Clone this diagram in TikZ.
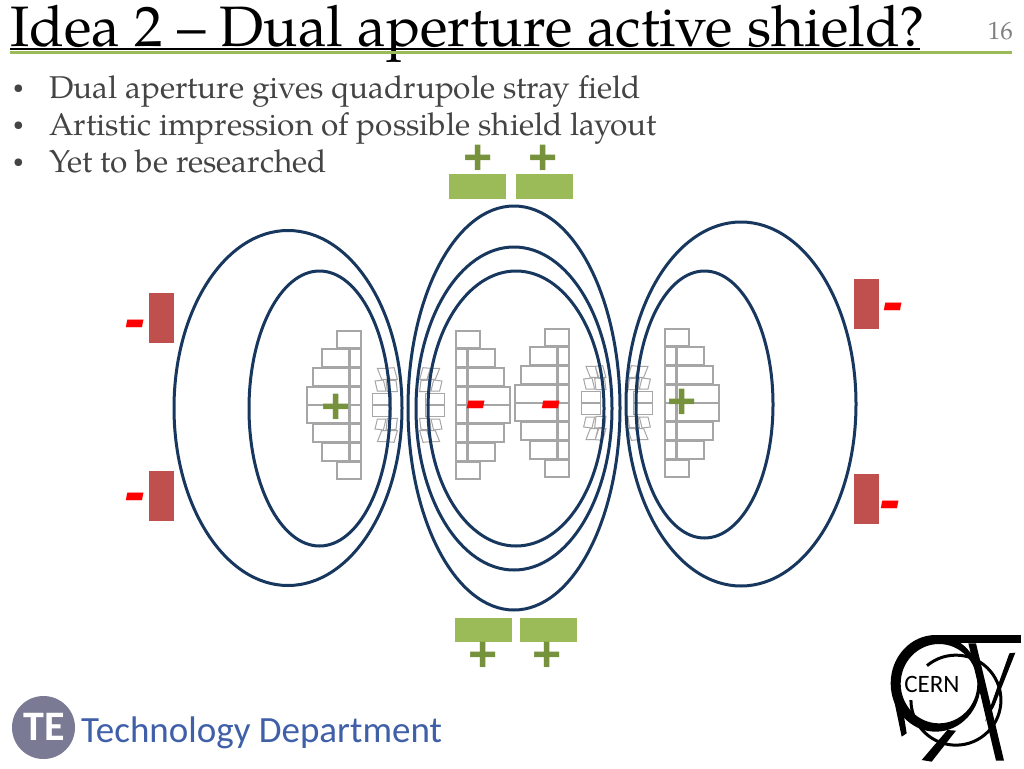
\documentclass[tikz,border=0pt]{standalone}
\usepackage{fontspec}
\setmainfont{TeX Gyre Pagella}
\newfontfamily\markfont{Liberation Sans}
\newfontfamily\logofont{Carlito}
\definecolor{navy}{HTML}{17375E}
\definecolor{shieldgreen}{HTML}{9BBB59}
\definecolor{plusgreen}{HTML}{76923C}
\definecolor{shieldred}{HTML}{C0504D}
\definecolor{bodygray}{HTML}{444444}
\definecolor{coilgray}{HTML}{A6A6A6}
\definecolor{tegray}{HTML}{7A7A95}
\definecolor{teblue}{HTML}{3F5FA8}
\tikzset{
  fieldline/.style={draw=navy,line width=3pt},
  block/.style={draw=coilgray,fill=white,line width=1.3pt},
  bodytext/.style={anchor=base west,inner sep=0pt,text=bodygray,font=\fontsize{31.5}{31.5}\selectfont},
  bullettext/.style={anchor=base west,inner sep=0pt,text=bodygray,font=\fontsize{19}{19}\selectfont},
  plussign/.style={text=plusgreen,inner sep=0pt,yshift=-2pt,font=\markfont\bfseries\fontsize{50}{50}\selectfont},
  minussign/.style={text=red,inner sep=0pt,yshift=-7pt,font=\markfont\bfseries\itshape\fontsize{64}{64}\selectfont},
}
\newcommand\CoilHalf[3]{%
  \begin{scope}[shift={(#1,#2)},xscale=#3]
    \draw[block] (0,-74) rectangle (24,-57);
    \draw[block] (0,57) rectangle (24,74);
    \foreach \ya/\yb/\w in {-56/-38/39,-37/-19/48,-18/-0.2/54,0.2/18/54,19/37/48,38/56/39}{
      \draw[block] (0,\ya) rectangle (11,\yb);
      \draw[block] (12,\ya) rectangle (\w,\yb);
    }
  \end{scope}}
\newcommand\WedgeHalf[3]{%
  \begin{scope}[shift={(#1,#2)},xscale=#3]
    \draw[block] (0,-11.7) rectangle (19,-0.3);
    \draw[block] (0,0.3) rectangle (19,11.7);
    \foreach \m in {1,-1}{
      \begin{scope}[yscale=\m,scale=1/3]
        \draw[block,line width=1pt] (14,-110) -- (42,-110) -- (50,-77) -- (27,-77) -- cycle;
        \draw[block,line width=1pt] (42,-110) -- (64,-112) -- (74,-77) -- (52,-77) -- cycle;
        \draw[block,line width=1pt] (7,-72) -- (32,-75) -- (40,-42) -- (14,-42) -- cycle;
        \draw[block,line width=1pt] (40,-75) -- (70,-73) -- (74,-40) -- (44,-40) -- cycle;
      \end{scope}
    }
  \end{scope}}
\begin{document}
\begin{tikzpicture}[x=1pt,y=-1pt]
\useasboundingbox (0,0) rectangle (1024,768);
\fill[white] (0,0) rectangle (1024,768);
% title
\node[anchor=base west,inner sep=0pt,font=\fontsize{57}{57}\selectfont] (title) at (10,46) {Idea 2 – Dual aperture active shield?};
\draw[black,line width=2pt] (10,49.5) -- (920,49.5);
\draw[shieldgreen,line width=3pt] (10,53) -- (1012,53);
\node[anchor=base east,inner sep=0pt,text=gray,font=\fontsize{25}{25}\selectfont] (page) at (1013,40) {16};
% bullets
\node[bullettext] (b1) at (13,93.5) {•};
\node[bullettext] (b2) at (13,130.5) {•};
\node[bullettext] (b3) at (13,167.5) {•};
\node[bodytext] (t1) at (49,98) {Dual aperture gives quadrupole stray field};
\node[bodytext] (t2) at (49,135) {Artistic impression of possible shield layout};
\node[bodytext] (t3) at (49,172) {Yet to be researched};
% coils
\CoilHalf{361}{405}{-1}
\CoilHalf{456}{405}{1}
\CoilHalf{569}{403}{-1}
\CoilHalf{665}{403}{1}
\WedgeHalf{372.7}{405}{1}
\WedgeHalf{444.3}{405}{-1}
\WedgeHalf{581.3}{403}{1}
\WedgeHalf{652.7}{403}{-1}
% field lines
\draw[fieldline] (288,408) ellipse [x radius=114pt,y radius=177.5pt];
\draw[fieldline] (319.5,408.5) ellipse [x radius=70.5pt,y radius=137.5pt];
\draw[fieldline] (514,408) ellipse [x radius=106pt,y radius=202pt];
\draw[fieldline] (514,408.5) ellipse [x radius=98pt,y radius=161.5pt];
\draw[fieldline] (516,408.5) ellipse [x radius=88pt,y radius=137.5pt];
\draw[fieldline] (741,404) ellipse [x radius=115pt,y radius=182pt];
\draw[fieldline] (704.5,404.5) ellipse [x radius=68.5pt,y radius=133.5pt];
% shield blocks
\fill[shieldgreen] (449,174) rectangle (506,199);
\fill[shieldgreen] (516,174) rectangle (573,199);
\fill[shieldgreen] (455,618) rectangle (512,642);
\fill[shieldgreen] (520,618) rectangle (577,642);
\fill[shieldred] (149,293) rectangle (174,343);
\fill[shieldred] (149,471) rectangle (174,521);
\fill[shieldred] (854,279) rectangle (879,329);
\fill[shieldred] (854,474) rectangle (879,524);
% signs
\node[plussign] (p1) at (478,158) {+};
\node[plussign] (p2) at (543,158) {+};
\node[plussign] (p3) at (483,655) {+};
\node[plussign] (p4) at (547,655) {+};
\node[plussign] (p5) at (336,407) {+};
\node[plussign] (p6) at (682,402) {+};
\node[minussign] (m1) at (135,323) {-};
\node[minussign] (m2) at (135,496) {-};
\node[minussign] (m3) at (893,306) {-};
\node[minussign] (m4) at (890,504) {-};
\node[minussign] (m5) at (476,404) {-};
\node[minussign] (m6) at (551,404) {-};
% TE logo
\fill[tegray] (43.5,727.5) circle [radius=31.5pt];
\node[inner sep=0pt,text=white,font=\logofont\bfseries\fontsize{42}{42}\selectfont] (te) at (44,727) {TE};
\node[anchor=base west,inner sep=0pt,text=teblue,font=\logofont\fontsize{37}{37}\selectfont] (dept) at (81,742) {Technology Department};
% CERN logo
\begin{scope}[shift={(870,620)},scale=1/3]
  \fill[black,even odd rule] (197,190) ellipse [x radius=135pt,y radius=145pt] (207,191) ellipse [x radius=115pt,y radius=119pt];
  \fill[black] (190,45) rectangle (452,70);
  \fill[black] (70,230) -- (92,225) -- (110,340) -- (95,350) -- cycle;
  \draw[black,line width=3pt] (171,137) arc [start angle=130,end angle=-180,radius=135pt];
  \fill[black] (295,70) -- (318,70) -- (402,422) -- (378,422) -- cycle;
  \fill[black] (418,100) -- (436,98) -- (372,260) -- (345,305) -- cycle;
  \fill[black] (232,330) -- (258,332) -- (185,425) -- (155,420) -- cycle;
\end{scope}
\node[inner sep=0pt,font=\logofont\fontsize{25}{25}\selectfont] (cern) at (932,684) {CERN};
\end{tikzpicture}
\end{document}
